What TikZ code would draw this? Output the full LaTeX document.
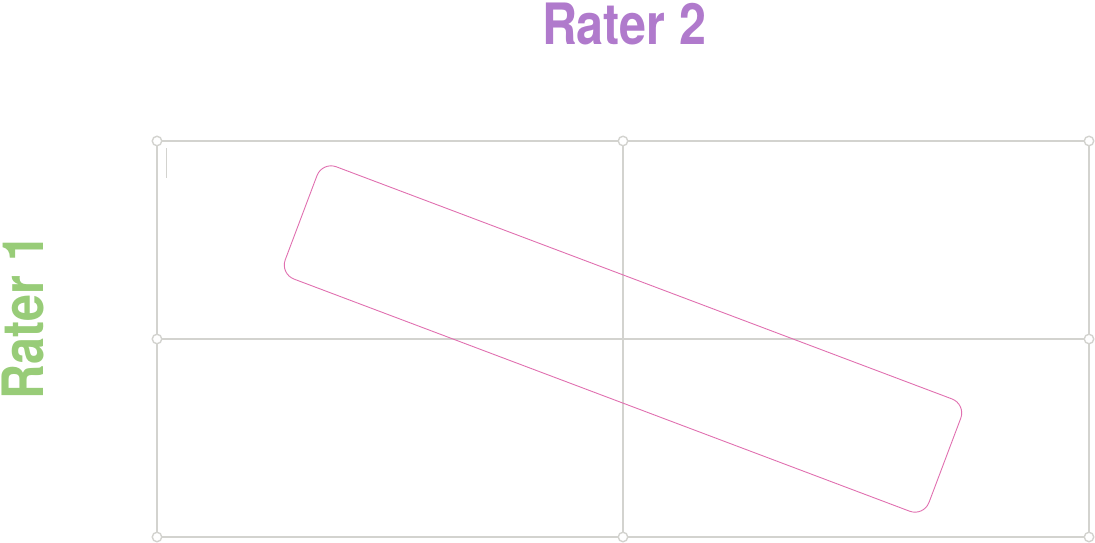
\documentclass[tikz,border=0pt]{standalone}
\usepackage{fontspec}
\newfontfamily\raterfont[FakeStretch=0.85]{TeX Gyre Heros}
\usetikzlibrary{positioning}
\definecolor{cgrid}{HTML}{D3D3CF}
\definecolor{cpink}{HTML}{E070B0}
\definecolor{cpurple}{HTML}{B07ACC}
\definecolor{cgreen}{HTML}{98CC78}
\begin{document}
\begin{tikzpicture}[x=1pt, y=-1pt,
  grid/.style={draw=cgrid, line width=1.8pt},
  knot/.style={circle, draw=cgrid, line width=1.4pt, fill=white, inner sep=0pt, minimum size=9.5pt},
  rater/.style={font=\raterfont\bfseries\fontsize{57}{57}\selectfont, inner sep=0pt},
  band/.style={draw=cpink, line width=0.9pt, rounded corners=15pt, minimum width=688pt, minimum height=120pt, rotate=-20.66}]
\useasboundingbox (0,0) rectangle (1095,542);
%% titles
\node[rater, text=cpurple] (r2) at (624,24) {Rater 2};
\node[rater, text=cgreen, rotate=90] (r1) at (23,317) {Rater 1};
%% grid knots
\node[knot] (tl) at (157,141) {};
\node[knot] (tm) at (623,141) {};
\node[knot] (tr) at (1089,141) {};
\node[knot] (ml) at (157,339) {};
\node[knot] (mr) at (1089,339) {};
\node[knot] (bl) at (157,537) {};
\node[knot] (bm) at (623,537) {};
\node[knot] (br) at (1089,537) {};
%% grid lines
\foreach \a/\b in {tl/tm, tm/tr, tr/mr, mr/br, br/bm, bm/bl, bl/ml, ml/tl, tm/bm, ml/mr}
  \draw[grid] (\a) -- (\b);
\draw[cgrid, line width=0.6pt] (166,148) -- (166,178);
%% band
\node[band] (diag) at (623,339) {};
\end{tikzpicture}
\end{document}
